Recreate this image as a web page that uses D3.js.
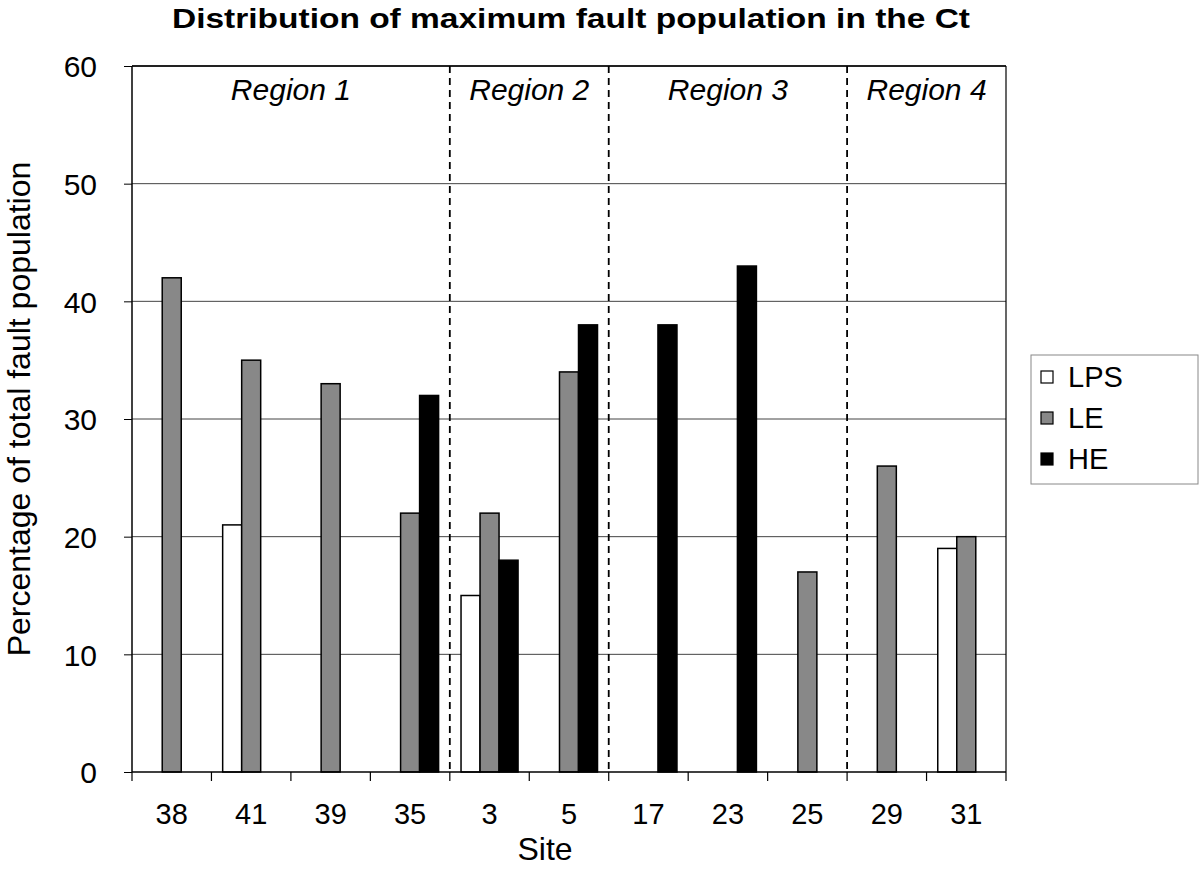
<!DOCTYPE html>
<html><head><meta charset="utf-8">
<script src="https://cdn.jsdelivr.net/npm/d3@7"></script>
<style>body{margin:0;background:#fff}svg{display:block}text{font-family:"Liberation Sans",Arial,sans-serif;fill:#000}</style>
</head><body>
<svg id="c" width="1200" height="869"></svg>
<script>
const sites = ["38","41","39","35","3","5","17","23","25","29","31"];
const seriesNames = ["LPS","LE","HE"];
const LPS = [0,21,0,0,15,0,0,0,0,0,19];
const LE  = [42,35,33,22,22,34,0,0,17,26,20];
const HE  = [0,0,0,32,18,38,38,43,0,0,0];
const yTicks = [0,10,20,30,40,50,60];
const regions = [
  {name:"Region 1", from:0, to:3},
  {name:"Region 2", from:4, to:5},
  {name:"Region 3", from:6, to:8},
  {name:"Region 4", from:9, to:10}
];
const colors = {LPS:"#ffffff", LE:"#888888", HE:"#000000"};
const values = {LPS, LE, HE};

const svg = d3.select("#c");
const L = 132, R = 1006, T = 66, B = 772;
const x = d3.scaleBand().domain(sites).range([L, R]).paddingInner(0).paddingOuter(0);
const xs = d3.scaleBand().domain(seriesNames).range([0, x.bandwidth()]).paddingInner(0).paddingOuter(0.59);
const y = d3.scaleLinear().domain([0,60]).range([B, T]);

// gridlines
svg.append("g").selectAll("line").data(yTicks.filter(d=>d>0)).join("line")
  .attr("x1", L).attr("x2", R).attr("y1", d=>y(d)).attr("y2", d=>y(d))
  .attr("stroke", d=> d===60 ? "#222" : "#444").attr("stroke-width", d=> d===60 ? 2 : 1);

// right border
svg.append("line").attr("x1", R).attr("x2", R).attr("y1", T).attr("y2", B).attr("stroke","#000").attr("stroke-width",1.2);

// region dashed separators
svg.append("g").selectAll("line").data(regions.slice(1)).join("line")
  .attr("x1", d=>x(sites[d.from])).attr("x2", d=>x(sites[d.from]))
  .attr("y1", T).attr("y2", B)
  .attr("stroke","#000").attr("stroke-width",1.8).attr("stroke-dasharray","7,5");

// region labels
svg.append("g").selectAll("text").data(regions).join("text")
  .attr("x", d=>(x(sites[d.from]) + x(sites[d.to]) + x.bandwidth())/2)
  .attr("y", 100).attr("text-anchor","middle")
  .style("font-size","30px").style("font-style","italic")
  .text(d=>d.name);

// bars
const data = [];
sites.forEach((s,i)=>seriesNames.forEach(k=>data.push({site:s, key:k, v:values[k][i]})));
svg.append("g").selectAll("rect").data(data.filter(d=>d.v>0)).join("rect")
  .attr("x", d=>x(d.site)+xs(d.key))
  .attr("width", xs.bandwidth())
  .attr("y", d=>y(d.v))
  .attr("height", d=>y(0)-y(d.v))
  .attr("fill", d=>colors[d.key])
  .attr("stroke","#000").attr("stroke-width",1.5);

// y axis
const yAxis = d3.axisLeft(y).tickValues(yTicks).tickSize(8).tickPadding(27);
const gy = svg.append("g").attr("transform",`translate(${L},0)`).call(yAxis);
gy.select(".domain").attr("stroke","#000").attr("stroke-width",1.5).attr("d",`M0,${T}V${B}`);
gy.selectAll(".tick line").attr("stroke","#000");
gy.selectAll(".tick text").style("font-size","30px").attr("dy","0.36em");

// x axis
const xAxis = d3.axisBottom(x).tickSize(0).tickPadding(31);
const gx = svg.append("g").attr("transform",`translate(0,${B})`).call(xAxis);
gx.select(".domain").attr("stroke","#000").attr("stroke-width",1.5).attr("d",`M${L},0H${R}`);
gx.selectAll(".tick text").style("font-size","29px").attr("dy","0.71em");
// boundary ticks
svg.append("g").selectAll("line").data(d3.range(sites.length+1)).join("line")
  .attr("x1", i=>L + i*x.bandwidth()).attr("x2", i=>L + i*x.bandwidth())
  .attr("y1", B).attr("y2", B+9).attr("stroke","#000").attr("stroke-width",1.2);

// axis titles
svg.append("text").attr("x",545).attr("y",860).attr("text-anchor","middle").style("font-size","32px").text("Site");
svg.append("text").attr("transform","translate(30,409) rotate(-90)").attr("text-anchor","middle")
  .style("font-size","32px").text("Percentage of total fault population");

// title
svg.append("text").attr("x",571).attr("y",28).attr("text-anchor","middle")
  .style("font-size","28px").style("font-weight","bold")
  .attr("textLength",798).attr("lengthAdjust","spacingAndGlyphs")
  .text("Distribution of maximum fault population in the Ct");

// legend
const lg = svg.append("g");
lg.append("rect").attr("x",1031).attr("y",355).attr("width",167).attr("height",129)
  .attr("fill","#fff").attr("stroke","#888").attr("stroke-width",1);
const ly = d3.scalePoint().domain(seriesNames).range([377, 459]);
lg.selectAll("rect.k").data(seriesNames).join("rect").attr("class","k")
  .attr("x",1041).attr("y",d=>ly(d)-6).attr("width",12).attr("height",12)
  .attr("fill",d=>colors[d]).attr("stroke","#000").attr("stroke-width",1.2);
lg.selectAll("text").data(seriesNames).join("text")
  .attr("x",1068).attr("y",d=>ly(d)+10).style("font-size","29px").text(d=>d);
</script>
</body></html>
